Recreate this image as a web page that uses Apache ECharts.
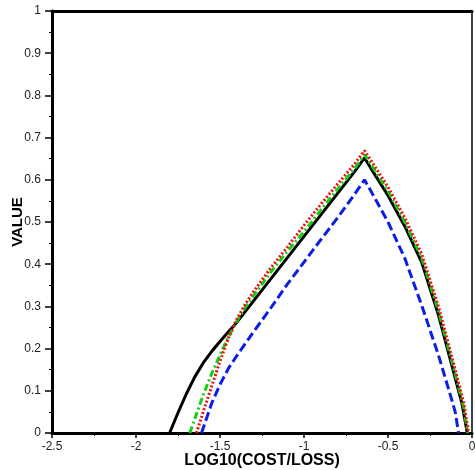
<!DOCTYPE html>
<html>
<head>
<meta charset="utf-8">
<script src="https://cdn.jsdelivr.net/npm/echarts@6/dist/echarts.min.js"></script>
<style>html,body{margin:0;padding:0;background:#fff;}#c{width:475px;height:470px;}</style>
</head>
<body>
<div id="c"></div>
<script>
const xTicks = [-2.5, -2, -1.5, -1, -0.5, 0];
const yTicks = [0, 0.1, 0.2, 0.3, 0.4, 0.5, 0.6, 0.7, 0.8, 0.9, 1];

const blackX = [-1.80,-1.75,-1.70,-1.65,-1.60,-1.55,-1.50,-1.45,-1.40,-1.30,-1.20,-1.10,-1.00,-0.90,-0.80,-0.70,-0.64,-0.60,-0.50,-0.40,-0.30,-0.20,-0.15,-0.10,-0.06,-0.028];
const blackY = [0,0.048,0.093,0.133,0.166,0.193,0.217,0.240,0.262,0.313,0.364,0.415,0.466,0.517,0.568,0.619,0.652,0.626,0.563,0.49,0.405,0.28,0.205,0.13,0.07,0];

const greenX = [-1.68,-1.64,-1.60,-1.55,-1.50,-1.45,-1.40,-1.35,-1.30,-1.20,-1.10,-1.00,-0.90,-0.80,-0.70,-0.64,-0.60,-0.50,-0.40,-0.30,-0.20,-0.15,-0.10,-0.05,-0.025];
const greenY = [0,0.045,0.09,0.14,0.185,0.228,0.265,0.298,0.325,0.38,0.43,0.477,0.528,0.578,0.626,0.660,0.635,0.573,0.50,0.415,0.29,0.215,0.14,0.062,0];

const redX = [-1.64,-1.60,-1.55,-1.50,-1.45,-1.40,-1.35,-1.30,-1.20,-1.10,-1.00,-0.90,-0.80,-0.70,-0.64,-0.60,-0.50,-0.40,-0.30,-0.20,-0.15,-0.10,-0.05,-0.02];
const redY = [0,0.05,0.11,0.17,0.225,0.27,0.305,0.335,0.39,0.44,0.492,0.542,0.59,0.637,0.669,0.645,0.583,0.51,0.425,0.30,0.225,0.15,0.072,0];

const blueX = [-1.61,-1.55,-1.50,-1.45,-1.40,-1.30,-1.20,-1.10,-1.00,-0.90,-0.80,-0.70,-0.64,-0.60,-0.50,-0.40,-0.30,-0.20,-0.12,-0.10,-0.08];
const blueY = [0,0.07,0.115,0.153,0.183,0.24,0.295,0.352,0.405,0.458,0.51,0.565,0.600,0.572,0.50,0.414,0.303,0.185,0.078,0.05,0];

function pairs(xs, ys){ return xs.map((x,i)=>[x, ys[i]]); }

const chart = echarts.init(document.getElementById('c'), null, {renderer:'canvas'});
const lblFont = {fontFamily:'Liberation Sans, Arial, sans-serif', fontSize:12, color:'#222'};
chart.setOption({
  animation:false,
  grid:{left:52, right:3, top:11, bottom:37, containLabel:false, outerBoundsMode:'none'},
  xAxis:[{
    type:'value', min:xTicks[0], max:xTicks[xTicks.length-1], interval:0.5, position:'bottom',
    name:'LOG10(COST/LOSS)', nameLocation:'middle', nameGap:20, nameMoveOverlap:false,
    nameTextStyle:{fontFamily:'Liberation Sans, Arial, sans-serif', fontSize:16, fontWeight:'bold', color:'#000'},
    axisLine:{show:true, onZero:false, lineStyle:{color:'#000', width:3}},
    axisTick:{show:true, inside:false, length:5, lineStyle:{color:'#000', width:1.5}},
    minorTick:{show:true, splitNumber:2, length:3, lineStyle:{color:'#000', width:1}},
    axisLabel:Object.assign({margin:8}, lblFont),
    splitLine:{show:false}
  },{
    type:'value', min:xTicks[0], max:xTicks[xTicks.length-1], position:'top',
    axisLine:{show:true, onZero:false, lineStyle:{color:'#000', width:3}},
    axisTick:{show:false}, axisLabel:{show:false}, splitLine:{show:false}
  }],
  yAxis:[{
    type:'value', min:yTicks[0], max:yTicks[yTicks.length-1], interval:0.1, position:'left',
    name:'VALUE', nameLocation:'middle', nameGap:27, nameRotate:90, nameMoveOverlap:false,
    nameTextStyle:{fontFamily:'Liberation Sans, Arial, sans-serif', fontSize:15, fontWeight:'bold', color:'#000'},
    axisLine:{show:true, onZero:false, lineStyle:{color:'#000', width:3}},
    axisTick:{show:true, inside:false, length:7, lineStyle:{color:'#000', width:1.5}},
    minorTick:{show:true, splitNumber:2, length:3, lineStyle:{color:'#000', width:1}},
    axisLabel:Object.assign({margin:11}, lblFont),
    splitLine:{show:false}
  },{
    type:'value', min:0, max:1, position:'right',
    axisLine:{show:true, onZero:false, lineStyle:{color:'#000', width:1.5}},
    axisTick:{show:false}, axisLabel:{show:false}, splitLine:{show:false}
  }],
  series:[
    {type:'line', name:'blue', data:pairs(blueX, blueY), showSymbol:false, symbol:'none',
     lineStyle:{color:'#0a1ee6', width:3, type:[9,4]}, z:2},
    {type:'line', name:'black', data:pairs(blackX, blackY), showSymbol:false, symbol:'none',
     lineStyle:{color:'#000', width:3, type:'solid'}, z:3},
    {type:'line', name:'green', data:pairs(greenX, greenY), showSymbol:false, symbol:'none',
     lineStyle:{color:'#10d010', width:3, type:[7,3,2,3]}, z:4},
    {type:'line', name:'red', data:pairs(redX, redY), showSymbol:false, symbol:'none',
     lineStyle:{color:'#ee1111', width:3, type:[2,2]}, z:5}
  ]
});
</script>
</body>
</html>
